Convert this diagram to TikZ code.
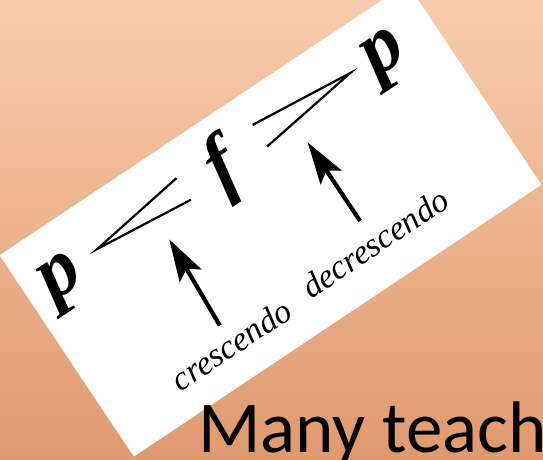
\documentclass[tikz,border=0pt]{standalone}
\usepackage{fontspec}
\setmainfont{Liberation Serif}
\newfontfamily\slidefont{Carlito}
\usetikzlibrary{arrows.meta}
\definecolor{bgtop}{RGB}{247,204,174}
\definecolor{bgbot}{RGB}{224,153,110}

\begin{document}
\begin{tikzpicture}[x=0.5pt, y=0.5pt,
  dyn/.style={font=\fontsize{40}{40}\selectfont\bfseries\itshape, inner sep=0pt},
  lbl/.style={font=\fontsize{17}{17}\selectfont\itshape, inner sep=0pt},
  hairpin/.style={line width=1.1pt},
  pointer/.style={-{Stealth[length=21pt, width=12.5pt, inset=4pt]}, line width=2.1pt}]
  \useasboundingbox (0,0) rectangle (543,460);
  \clip (0,0) rectangle (543,460);
  \shade[top color=bgtop, bottom color=bgbot] (0,0) rectangle (543,460);
  % the card with the dynamics
  \begin{scope}[shift={(270.5,240)}, rotate=33.7, transform shape]
    \fill[white] (-245,-121) rectangle (245,121);
    \node[dyn] (pstart) at (-206,62) {p};
    \node[dyn] (forte) at (-11,68) {f};
    \node[dyn] (pend) at (187,69) {p};
    % hairpins
    \coordinate (crescapex) at (-160,72);
    \coordinate (crescup) at (-55,87);
    \coordinate (crescdown) at (-55,61);
    \coordinate (decrescup) at (38,89);
    \coordinate (decrescdown) at (38,63);
    \coordinate (decrescapex) at (148,78);
    \draw[hairpin] (crescup) -- (crescapex) -- (crescdown);
    \draw[hairpin] (decrescup) -- (decrescapex) -- (decrescdown);
    % labels and pointers
    \node[lbl] (cresc) at (-102,-82) {crescendo};
    \node[lbl] (decresc) at (74,-77) {decrescendo};
    \coordinate (cresctip) at (-95,40);
    \coordinate (decresctip) at (74,44);
    \draw[pointer, shorten <=5pt] (cresc) -- (cresctip);
    \draw[pointer, shorten <=7pt] (decresc) -- (decresctip);
  \end{scope}
  \node[anchor=base west, inner sep=0pt, font=\slidefont\fontsize{36.5}{36.5}\selectfont] (heading) at (198,7.3) {Many teach};
\end{tikzpicture}
\end{document}
